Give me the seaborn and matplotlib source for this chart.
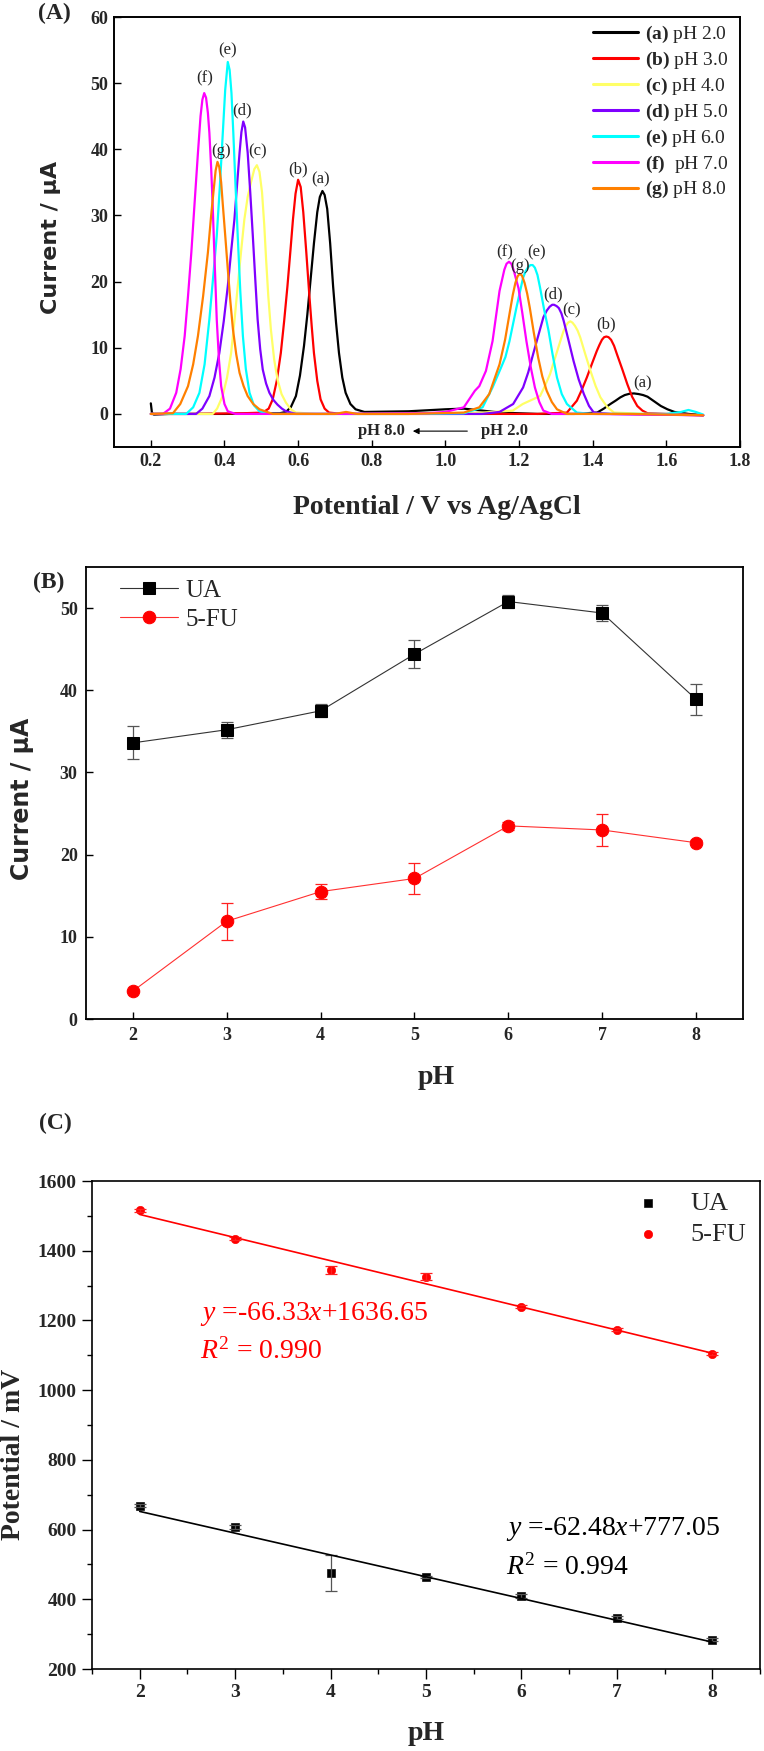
import numpy as np
import pandas as pd
import matplotlib
matplotlib.use("Agg")
import matplotlib.pyplot as plt
from matplotlib.lines import Line2D
import seaborn as sns

sns.set_theme(style="ticks")
plt.rcParams['font.family'] = ['Liberation Serif', 'DejaVu Serif']
plt.rcParams['mathtext.fontset'] = 'custom'
plt.rcParams['mathtext.rm'] = 'Liberation Serif'
plt.rcParams['mathtext.it'] = 'Liberation Serif:italic'
plt.rcParams['mathtext.bf'] = 'Liberation Serif:bold'

# ---------------- Panel A data (DPV curves) ----------------
a_E = [0.200, 0.203, 0.208, 0.25, 0.40, 0.55, 0.567, 0.58, 0.594, 0.605, 0.616, 0.625, 0.634, 0.643, 0.652, 0.659, 0.666, 0.672, 0.679, 0.687, 0.695, 0.703, 0.711, 0.72, 0.729, 0.742, 0.756, 0.78, 0.90, 1.00, 1.05, 1.10, 1.15, 1.25, 1.35, 1.412, 1.43, 1.448, 1.462, 1.475, 1.487, 1.50, 1.512, 1.525, 1.537, 1.549, 1.567, 1.585, 1.603, 1.622, 1.66, 1.70]
a_I = [1.6, 0.2, -0.1, 0, 0, 0.1, 0.3, 1.0, 2.7, 5.8, 10.3, 15.0, 20.4, 25.8, 30.5, 32.8, 33.7, 33.1, 31.0, 25.8, 19.3, 13.8, 9.2, 5.5, 3.2, 1.5, 0.7, 0.3, 0.4, 0.7, 0.8, 0.5, 0.2, 0.0, 0.0, 0.2, 0.8, 1.5, 2.0, 2.5, 2.85, 3.05, 3.1, 3.0, 2.85, 2.6, 1.9, 1.2, 0.7, 0.3, 0.0, -0.2]

b_E = [0.2, 0.3, 0.45, 0.504, 0.52, 0.531, 0.542, 0.553, 0.562, 0.571, 0.579, 0.586, 0.593, 0.600, 0.607, 0.614, 0.622, 0.630, 0.637, 0.643, 0.652, 0.661, 0.672, 0.684, 0.72, 0.9, 1.1, 1.25, 1.33, 1.357, 1.37, 1.384, 1.398, 1.411, 1.418, 1.425, 1.431, 1.437, 1.443, 1.45, 1.458, 1.466, 1.48, 1.494, 1.507, 1.521, 1.535, 1.549, 1.6, 1.7]
b_I = [0, 0, 0.1, 0.2, 0.8, 2.2, 5.0, 9.2, 14.0, 19.3, 24.6, 29.4, 33.3, 35.4, 34.3, 30.5, 24.6, 18.3, 13.2, 9.2, 5.0, 2.2, 0.8, 0.2, 0, 0, 0, 0, 0.2, 2.0, 3.6, 5.5, 7.6, 9.5, 10.4, 11.2, 11.6, 11.7, 11.6, 11.2, 10.3, 9.0, 6.8, 4.5, 2.6, 1.2, 0.5, 0.1, 0, -0.2]

c_E = [0.2, 0.3, 0.368, 0.38, 0.395, 0.407, 0.418, 0.427, 0.436, 0.445, 0.454, 0.463, 0.472, 0.481, 0.488, 0.495, 0.502, 0.508, 0.513, 0.519, 0.526, 0.535, 0.544, 0.555, 0.567, 0.58, 0.594, 0.65, 0.9, 1.1, 1.183, 1.21, 1.257, 1.27, 1.284, 1.298, 1.312, 1.32, 1.327, 1.333, 1.339, 1.345, 1.352, 1.359, 1.366, 1.38, 1.394, 1.408, 1.421, 1.44, 1.458, 1.55, 1.7]
c_I = [0, 0, 0, 0.8, 2.7, 5.5, 9.2, 14.0, 19.3, 24.5, 29.4, 32.8, 35.0, 37.0, 37.6, 36.6, 33.5, 28.6, 23.4, 17.8, 12.8, 8.2, 5.2, 3.0, 1.7, 0.7, 0.2, 0, 0, 0.2, 0.5, 1.5, 2.7, 4.2, 6.0, 8.5, 11.0, 12.4, 13.3, 13.8, 14.0, 13.8, 13.3, 12.6, 11.6, 9.0, 6.5, 4.2, 2.5, 1.0, 0.2, 0, -0.2]

d_E = [0.2, 0.3, 0.323, 0.34, 0.359, 0.373, 0.386, 0.398, 0.409, 0.418, 0.427, 0.434, 0.441, 0.446, 0.451, 0.456, 0.463, 0.470, 0.477, 0.484, 0.490, 0.497, 0.504, 0.513, 0.522, 0.533, 0.544, 0.556, 0.567, 0.594, 0.7, 0.9, 1.1, 1.147, 1.184, 1.211, 1.225, 1.238, 1.252, 1.266, 1.275, 1.283, 1.29, 1.295, 1.302, 1.308, 1.315, 1.321, 1.334, 1.348, 1.362, 1.376, 1.39, 1.403, 1.45, 1.7]
d_I = [0, 0, 0, 0.8, 2.7, 5.5, 9.2, 14.0, 19.3, 24.5, 29.4, 34.5, 39.5, 42.6, 44.2, 43.3, 39.5, 33.5, 26.9, 20.0, 14.3, 9.8, 6.7, 4.6, 3.2, 2.1, 1.4, 0.8, 0.4, 0, 0, 0, 0, 0.3, 1.5, 4.0, 6.3, 9.0, 11.8, 14.6, 15.6, 16.2, 16.5, 16.5, 16.3, 16.0, 15.2, 14.1, 11.2, 8.0, 5.2, 3.0, 1.2, 0.2, 0, -0.2]

e_E = [0.2, 0.25, 0.296, 0.315, 0.332, 0.346, 0.359, 0.369, 0.379, 0.387, 0.395, 0.402, 0.409, 0.414, 0.419, 0.424, 0.430, 0.436, 0.443, 0.450, 0.458, 0.468, 0.48, 0.495, 0.52, 0.7, 0.9, 1.05, 1.101, 1.128, 1.151, 1.163, 1.174, 1.193, 1.211, 1.218, 1.225, 1.231, 1.237, 1.243, 1.25, 1.257, 1.268, 1.28, 1.291, 1.303, 1.316, 1.33, 1.357, 1.4, 1.6, 1.64, 1.66, 1.68, 1.7]
e_I = [0, 0, 0, 1.0, 3.2, 7.5, 14.3, 20.5, 26.9, 34.0, 42.0, 49.0, 53.2, 52.0, 48.5, 42.5, 34.5, 26.9, 18.5, 11.8, 6.8, 3.2, 1.3, 0.4, 0, 0, 0, 0.1, 1.0, 4.0, 7.0, 8.6, 11.0, 16.1, 20.6, 21.6, 22.2, 22.5, 22.5, 22.1, 21.0, 19.1, 15.8, 12.6, 9.0, 5.5, 3.0, 1.5, 0.2, 0, 0, 0.3, 0.6, 0.3, -0.1]

f_E = [0.2, 0.233, 0.252, 0.269, 0.281, 0.292, 0.301, 0.31, 0.319, 0.328, 0.335, 0.340, 0.345, 0.350, 0.355, 0.359, 0.364, 0.368, 0.373, 0.379, 0.385, 0.391, 0.40, 0.409, 0.43, 0.7, 0.95, 1.0, 1.05, 1.08, 1.092, 1.11, 1.128, 1.147, 1.16, 1.166, 1.1725, 1.179, 1.185, 1.1985, 1.209, 1.22, 1.232, 1.243, 1.255, 1.266, 1.289, 1.4, 1.7]
f_I = [0, 0, 0.8, 3.2, 6.8, 11.8, 17.8, 24.4, 32.0, 39.5, 45.0, 47.5, 48.5, 47.8, 45.5, 42.5, 37.0, 31.5, 23.5, 14.3, 8.2, 4.2, 1.5, 0.4, 0, 0, 0.1, 0.3, 1.0, 3.5, 4.2, 6.5, 11.0, 18.6, 21.8, 22.7, 23.0, 22.7, 21.8, 19.0, 15.2, 11.0, 7.0, 4.0, 1.8, 0.5, 0, 0, -0.2]

g_E = [0.2, 0.26, 0.28, 0.301, 0.315, 0.328, 0.342, 0.355, 0.363, 0.370, 0.376, 0.381, 0.386, 0.391, 0.395, 0.402, 0.409, 0.416, 0.423, 0.432, 0.441, 0.452, 0.463, 0.478, 0.495, 0.531, 0.7, 0.73, 0.76, 0.9, 1.05, 1.092, 1.119, 1.147, 1.162, 1.174, 1.183, 1.19, 1.196, 1.202, 1.208, 1.215, 1.222, 1.229, 1.24, 1.252, 1.263, 1.275, 1.289, 1.303, 1.33, 1.5, 1.7]
g_I = [0, 0.1, 1.5, 4.2, 7.5, 11.8, 17.8, 24.4, 29.5, 33.5, 36.8, 38.1, 37.3, 35.0, 32.0, 27.0, 21.9, 17.0, 12.8, 9.0, 6.2, 4.2, 2.7, 1.5, 0.7, 0, 0, 0.3, 0, 0, 0.2, 1.0, 3.0, 7.5, 11.2, 15.1, 18.0, 19.8, 20.8, 21.2, 20.9, 19.8, 18.2, 16.1, 12.3, 8.5, 5.7, 3.5, 1.8, 0.7, 0, 0, -0.2]

A_keys = ['a', 'b', 'c', 'd', 'e', 'f', 'g']
A_pH = ['pH 2.0', 'pH 3.0', 'pH 4.0', 'pH 5.0', 'pH 6.0', ' pH 7.0', 'pH 8.0']
A_colors = ['#000000', '#ff0000', '#ffff66', '#7f00ff', '#00ffff', '#ff00ff', '#ff8000']
A_curves = {'a': (a_E, a_I), 'b': (b_E, b_I), 'c': (c_E, c_I), 'd': (d_E, d_I),
            'e': (e_E, e_I), 'f': (f_E, f_I), 'g': (g_E, g_I)}

# peak labels
A_lab_keys = ['e', 'f', 'd', 'g', 'c', 'b', 'a', 'f', 'g', 'e', 'd', 'c', 'b', 'a']
A_lab_E = [0.409, 0.346, 0.448, 0.391, 0.490, 0.600, 0.661, 1.161, 1.202, 1.248, 1.293, 1.342, 1.435, 1.536]
A_lab_I = [54.9, 50.7, 45.9, 39.7, 39.7, 37.0, 35.5, 24.4, 22.4, 24.4, 18.1, 15.6, 13.6, 4.6]

A_xticks = [0.2, 0.4, 0.6, 0.8, 1.0, 1.2, 1.4, 1.6, 1.8]
A_yticks = [0, 10, 20, 30, 40, 50, 60]

# ---------------- Panel B data ----------------
B_pH = [2, 3, 4, 5, 6, 7, 8]
B_UA = [33.6, 35.2, 37.5, 44.4, 50.8, 49.4, 38.9]
B_UA_err = [2.0, 1.0, 0.8, 1.7, 0.75, 0.95, 1.9]
B_FU = [3.4, 11.9, 15.5, 17.1, 23.5, 23.0, 21.45]
B_FU_err = [0.0, 2.25, 0.9, 1.9, 0.5, 2.0, 0.3]
B_yticks = [0, 10, 20, 30, 40, 50]

# ---------------- Panel C data ----------------
C_pH = [2, 3, 4, 5, 6, 7, 8]
C_FU = [1516, 1434, 1345, 1326, 1239, 1173, 1105]
C_FU_err = [5, 4, 11, 10, 4, 4, 4]
C_UA = [669, 608, 475, 464, 409, 347, 284]
C_UA_err = [4, 5, 52, 4, 5, 4, 4]
C_fit_slope = [-66.33, -62.48]      # 5-FU, UA
C_fit_inter = [1636.65, 777.05]
C_fit_range = [2, 8]
C_yticks = [200, 400, 600, 800, 1000, 1200, 1400, 1600]

# ---------------- Figure ----------------
W, H = 764, 1751
fig = plt.figure(figsize=(W / 100, H / 100), dpi=100)

def box(l, t, r, b):
    return [l / W, 1 - b / H, (r - l) / W, (b - t) / H]

axA = fig.add_axes(box(114, 17, 740, 447))
axB = fig.add_axes(box(86, 567, 743, 1019))
axC = fig.add_axes(box(92, 1181, 760, 1669))

SANS = ['DejaVu Sans']

# ---- Panel A ----
rows = []
for k in A_keys:
    E, I = A_curves[k]
    for e_, i_ in zip(E, I):
        rows.append((k, e_, i_))
dfA = pd.DataFrame(rows, columns=['curve', 'E', 'I'])
pal = dict(zip(A_keys, A_colors))
sns.lineplot(data=dfA, x='E', y='I', hue='curve', palette=pal, sort=False,
             estimator=None, lw=1.6, ax=axA, legend=False)
for ln in axA.lines:
    ln.set_solid_joinstyle('round')
axA.set_xlim(0.1, 1.8)
axA.set_ylim(-5, 60)
axA.set_xticks(A_xticks)
axA.set_xticklabels([f'{v:.1f}' for v in A_xticks])
axA.set_yticks(A_yticks)
axA.tick_params(direction='in', length=5, width=1.0, labelsize=13, pad=4, color='black')
for s in axA.spines.values():
    s.set_linewidth(1.4)
    s.set_color('black')
for lab, e_, i_ in zip(A_lab_keys, A_lab_E, A_lab_I):
    axA.text(e_, i_, f'({lab})', ha='center', va='center', fontsize=12)
handles = [Line2D([], [], color=c, lw=2.2) for c in A_colors]
labels = [rf'$\mathbf{{({k})}}$ {p}' for k, p in zip(A_keys, A_pH)]
axA.legend(handles, labels, loc='upper left', bbox_to_anchor=(0.765, 0.985),
           frameon=False, fontsize=14, handlelength=2.3, handletextpad=0.4,
           labelspacing=0.25, borderaxespad=0, borderpad=0)
axA.text(0.826, -2.6, 'pH 8.0', ha='center', va='center', fontsize=12, fontweight='bold')
axA.text(1.16, -2.6, 'pH 2.0', ha='center', va='center', fontsize=12, fontweight='bold')
axA.annotate('', xy=(0.904, -2.6), xytext=(1.067, -2.6),
             arrowprops=dict(arrowstyle='-|>', color='black', lw=0.8, mutation_scale=9))
axA.set_xlabel('Potential / V vs Ag/AgCl', fontsize=20, fontweight='bold')
axA.xaxis.set_label_coords(0.516, -60 / 430)
axA.xaxis.label.set_va('center')
axA.set_ylabel('Current / μA', fontsize=16, fontweight='bold', family=SANS)
axA.yaxis.set_label_coords(-63 / 626, 0.488)
axA.yaxis.label.set_va('center')

# ---- Panel B ----
axB.errorbar(B_pH, B_UA, yerr=B_UA_err, fmt='none', ecolor='#555555', elinewidth=0.9, capsize=4, capthick=0.9)
axB.errorbar(B_pH, B_FU, yerr=B_FU_err, fmt='none', ecolor='#ff2020', elinewidth=0.9, capsize=4, capthick=0.9)
sns.lineplot(x=B_pH, y=B_UA, ax=axB, color='#333333', lw=0.8, marker='s', markersize=8,
             markerfacecolor='black', markeredgecolor='black', label='UA')
sns.lineplot(x=B_pH, y=B_FU, ax=axB, color='#ff3030', lw=0.8, marker='o', markersize=9,
             markerfacecolor='#ff0000', markeredgecolor='#ff0000', label='5-FU')
axB.set_xlim(1.5, 8.5)
axB.set_ylim(0, 55)
axB.set_xticks(B_pH)
axB.set_yticks(B_yticks)
axB.tick_params(direction='in', length=5, width=1.0, labelsize=13, pad=6, color='black')
for s in axB.spines.values():
    s.set_linewidth(1.3)
    s.set_color('black')
axB.legend(loc='upper left', bbox_to_anchor=(0.052, 0.972), frameon=False, fontsize=18,
           handlelength=2.3, handletextpad=0.3, labelspacing=0.25, borderaxespad=0, borderpad=0)
axB.set_xlabel('pH', fontsize=20, fontweight='bold')
axB.xaxis.set_label_coords(0.533, -58 / 452)
axB.xaxis.label.set_va('center')
axB.set_ylabel('Current / μA', fontsize=17, fontweight='bold', family=SANS)
axB.yaxis.set_label_coords(-64 / 657, 0.487)
axB.yaxis.label.set_va('center')

# ---- Panel C ----
axC.errorbar(C_pH, C_FU, yerr=C_FU_err, fmt='none', ecolor='#ff2020', elinewidth=0.9, capsize=4, capthick=0.9)
axC.errorbar(C_pH, C_UA, yerr=C_UA_err, fmt='none', ecolor='#555555', elinewidth=0.9, capsize=4, capthick=0.9)
for slope, inter, col in zip(C_fit_slope, C_fit_inter, ['#ff0000', '#000000']):
    xs = np.array(C_fit_range, dtype=float)
    sns.lineplot(x=xs, y=slope * xs + inter, ax=axC, color=col, lw=1.2)
sns.scatterplot(x=C_pH, y=C_UA, ax=axC, marker='s', s=30, color='black', edgecolor='black', label='UA')
sns.scatterplot(x=C_pH, y=C_FU, ax=axC, marker='o', s=36, color='#ff0000', edgecolor='#ff0000', label='5-FU')
axC.set_xlim(1.5, 8.5)
axC.set_ylim(200, 1600)
axC.set_xticks(C_pH)
axC.set_yticks(C_yticks)
axC.set_xticks(np.arange(1.5, 8.6, 0.5), minor=True)
axC.set_yticks(np.arange(200, 1601, 100), minor=True)
axC.tick_params(which='major', direction='out', length=7, width=1.0, labelsize=14, pad=4, color='black')
axC.tick_params(which='minor', direction='out', length=3.5, width=1.0, color='black')
for s in axC.spines.values():
    s.set_linewidth(1.2)
    s.set_color('black')
axC.legend(loc='upper left', bbox_to_anchor=(0.813, 0.978), frameon=False, fontsize=19,
           handlelength=1.0, handletextpad=1.1, labelspacing=0.27, borderaxespad=0, borderpad=0)
axC.text(2.63, 1218, r'$y$ =-66.33$x$+1636.65', color='#ff0000', fontsize=20, ha='left', va='center')
axC.text(2.63, 1111, r'$R^2$ = 0.990', color='#ff0000', fontsize=20, ha='left', va='center')
axC.text(5.84, 601, r'$y$ =-62.48$x$+777.05', color='black', fontsize=20, ha='left', va='center')
axC.text(5.84, 491, r'$R^2$ = 0.994', color='black', fontsize=20, ha='left', va='center')
axC.set_xlabel('pH', fontsize=20, fontweight='bold')
axC.xaxis.set_label_coords(0.5, -64 / 488)
axC.xaxis.label.set_va('center')
axC.set_ylabel('Potential / mV', fontsize=20, fontweight='bold')
axC.yaxis.set_label_coords(-78 / 668, 0.44)
axC.yaxis.label.set_va('center')

for ax in (axA, axB, axC):
    for lbl in ax.get_xticklabels() + ax.get_yticklabels():
        lbl.set_fontweight('bold')
    ax.set_facecolor('white')

# panel letters
fig.text(54 / W, 1 - 13 / H, '(A)', fontsize=17, fontweight='bold', ha='center', va='center')
fig.text(49 / W, 1 - 582 / H, '(B)', fontsize=17, fontweight='bold', ha='center', va='center')
fig.text(55 / W, 1 - 1123 / H, '(C)', fontsize=17, fontweight='bold', ha='center', va='center')

fig.savefig('out.png', dpi=100, facecolor='white')
